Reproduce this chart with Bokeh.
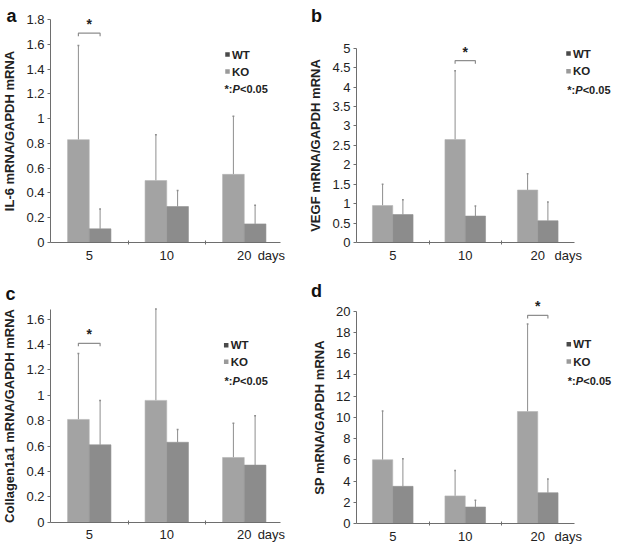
from bokeh.plotting import figure
from bokeh.models import FixedTicker, CustomJSTickFormatter, Label, Range1d
from bokeh.layouts import column, row
from bokeh.embed import file_html
from bokeh.resources import INLINE

# ---------------- data ----------------
days = ["5", "10", "20"]
group_pos = [1, 2, 3]
days_unit = "days"

il6_wt = [0.83, 0.50, 0.55]
il6_wt_upper = [1.59, 0.87, 1.02]
il6_ko = [0.11, 0.29, 0.15]
il6_ko_upper = [0.27, 0.42, 0.30]
il6_yticks = [0, 0.2, 0.4, 0.6, 0.8, 1, 1.2, 1.4, 1.6, 1.8]

vegf_wt = [0.95, 2.65, 1.35]
vegf_wt_upper = [1.50, 4.42, 1.77]
vegf_ko = [0.72, 0.68, 0.56]
vegf_ko_upper = [1.10, 0.94, 1.04]
vegf_yticks = [0, 0.5, 1, 1.5, 2, 2.5, 3, 3.5, 4, 4.5, 5]

col_wt = [0.81, 0.96, 0.51]
col_wt_upper = [1.33, 1.68, 0.78]
col_ko = [0.61, 0.63, 0.45]
col_ko_upper = [0.96, 0.73, 0.84]
col_yticks = [0, 0.2, 0.4, 0.6, 0.8, 1, 1.2, 1.4, 1.6]

sp_wt = [6.0, 2.6, 10.55]
sp_wt_upper = [10.6, 5.0, 18.8]
sp_ko = [3.5, 1.55, 2.9]
sp_ko_upper = [6.1, 2.2, 4.2]
sp_yticks = [0, 2, 4, 6, 8, 10, 12, 14, 16, 18, 20]

legend_labels = ["WT", "KO"]
p_note = ["*:", "P", "<0.05"]

WT_COLOR = "#a3a3a3"
KO_COLOR = "#8c8c8c"
AXIS_COLOR = "#6e6e6e"
TEXT_COLOR = "#222222"
FONT = "Liberation Sans"


def make_panel(letter, ylabel, wt, wt_up, ko, ko_up, yticks, cfg):
    W, H = cfg["size"]
    ox, oy = cfg["origin"]          # axis origin inside the canvas (px)
    sx, sy = cfg["scale"]           # px per data unit
    x_axis_end, y_axis_end = cfg["axis_end"]

    def dx(cx):
        return 0.5 + (cx - ox) / sx

    def dy(cy):
        return (oy - cy) / sy

    p = figure(width=W, height=H, output_backend="svg", toolbar_location=None,
               x_range=Range1d(dx(0), dx(W)), y_range=Range1d(dy(H), dy(0)),
               min_border=0, min_border_left=0, min_border_right=0,
               min_border_top=0, min_border_bottom=0)
    p.outline_line_color = None
    p.xgrid.visible = False
    p.ygrid.visible = False
    p.background_fill_color = "white"
    p.border_fill_color = "white"

    bw = 0.28
    xw = [g - bw / 2 for g in group_pos]
    xk = [g + bw / 2 for g in group_pos]
    ecol = "#8e8e8e"
    p.segment(x0=xw, y0=wt, x1=xw, y1=wt_up, line_color=ecol, line_width=1)
    p.segment(x0=xk, y0=ko, x1=xk, y1=ko_up, line_color=ecol, line_width=1)
    p.segment(x0=[x - 0.012 for x in xw], y0=wt_up, x1=[x + 0.012 for x in xw], y1=wt_up,
              line_color=ecol, line_width=1.5)
    p.segment(x0=[x - 0.012 for x in xk], y0=ko_up, x1=[x + 0.012 for x in xk], y1=ko_up,
              line_color=ecol, line_width=1.5)
    p.vbar(x=xw, top=wt, width=bw, bottom=0, fill_color=WT_COLOR, line_color="#b6b6b6",
           line_width=0.6)
    p.vbar(x=xk, top=ko, width=bw, bottom=0, fill_color=KO_COLOR, line_color="#929292",
           line_width=0.6)

    # significance bracket
    sig_idx, sig_y = cfg["sig"]
    tip = 3 / sy
    bx0, bx1 = xw[sig_idx], xk[sig_idx]
    p.line(x=[bx0, bx0, bx1, bx1], y=[sig_y - tip, sig_y, sig_y, sig_y - tip],
           line_color="#8e8e8e", line_width=1.2)
    p.add_layout(Label(x=group_pos[sig_idx], y=sig_y, text="*", y_offset=1,
                       text_align="center", text_baseline="bottom",
                       text_font=FONT, text_font_size="14px", text_font_style="bold",
                       text_color=TEXT_COLOR))

    # axes, fixed at the data origin inside the canvas
    xt = group_pos + [cfg["days_x"]]
    xl = days + [days_unit]
    xa = p.xaxis[0]
    ya = p.yaxis[0]
    xa.fixed_location = 0
    ya.fixed_location = 0.5
    xa.ticker = FixedTicker(ticks=xt, minor_ticks=[1.5, 2.5])
    xa.formatter = CustomJSTickFormatter(
        args=dict(tpos=xt, labels=xl),
        code="""
        let best = 0;
        for (let i = 0; i < tpos.length; i++) {
          if (Math.abs(tpos[i] - tick) < Math.abs(tpos[best] - tick)) best = i;
        }
        return labels[best];""")
    xa.bounds = (0.5, x_axis_end)
    xa.major_tick_line_color = None
    xa.major_tick_in = 0
    xa.major_tick_out = 2
    xa.minor_tick_in = 2
    xa.minor_tick_out = 2
    xa.minor_tick_line_color = AXIS_COLOR
    xa.major_label_standoff = 3
    ya.ticker = FixedTicker(ticks=yticks, minor_ticks=[])
    ya.formatter = CustomJSTickFormatter(
        code="return String(parseFloat(tick.toFixed(2)));")
    ya.bounds = (0, y_axis_end)
    ya.major_tick_in = 0
    ya.major_tick_out = 3
    ya.major_tick_line_color = AXIS_COLOR
    ya.major_label_standoff = 3
    ya.axis_label = ylabel
    ya.axis_label_standoff = 6
    for ax in (xa, ya):
        ax.axis_line_color = AXIS_COLOR
        ax.major_label_text_font = FONT
        ax.major_label_text_font_size = "13px"
        ax.major_label_text_color = TEXT_COLOR
        ax.axis_label_text_font = FONT
        ax.axis_label_text_font_size = "13px"
        ax.axis_label_text_font_style = "bold"
        ax.axis_label_text_color = TEXT_COLOR

    # panel letter
    lx, ly = cfg["letter"]
    p.add_layout(Label(x=dx(lx), y=dy(ly), text=letter, text_align="center",
                       text_baseline="middle", text_font=FONT, text_font_size="18px",
                       text_font_style="bold", text_color="#111111"))

    # legend
    (qx, qy1, qy2), (nx, ny) = cfg["legend"]
    p.scatter(x=[dx(qx), dx(qx)], y=[dy(qy1), dy(qy2)], marker="square", size=4.5,
              fill_color=["#4a4a4a", "#9a9a9a"], line_color=None)
    for lab, yy in zip(legend_labels, [qy1, qy2]):
        p.add_layout(Label(x=dx(qx + 4.5), y=dy(yy), text=lab, text_align="left",
                           text_baseline="middle", text_font=FONT,
                           text_font_size="11.5px", text_font_style="bold",
                           text_color=TEXT_COLOR))
    offs = [0, 8, 15.5]
    styles = ["bold", "bold italic", "bold"]
    for t, st, off in zip(p_note, styles, offs):
        p.add_layout(Label(x=dx(nx + off), y=dy(ny), text=t, text_align="left",
                           text_baseline="middle", text_font=FONT,
                           text_font_size="11px", text_font_style=st,
                           text_color=TEXT_COLOR))
    return p


cfg_a = dict(size=(309, 273), origin=(50, 242), scale=(77.5, 223 / 1.8),
             axis_end=(3.47, 1.8), sig=(0, 1.69), days_x=3.35,
             letter=(11, 15), legend=((227, 54, 71), (224, 88)))
cfg_b = dict(size=(309, 273), origin=(47, 242), scale=(72.5, 194.3 / 5),
             axis_end=(3.51, 5), sig=(1, 4.68), days_x=3.42,
             letter=(7, 15.5), legend=((259, 53, 70.7), (257.7, 89.3)))
cfg_c = dict(size=(309, 273), origin=(50, 248.7), scale=(77.5, 203 / 1.6),
             axis_end=(3.47, 1.68), sig=(0, 1.41), days_x=3.35,
             letter=(10, 20), legend=((225.7, 71.7, 88.3), (224, 107.3)))
cfg_d = dict(size=(309, 273), origin=(47, 250), scale=(72.5, 212.3 / 20),
             axis_end=(3.51, 20), sig=(2, 19.6), days_x=3.42,
             letter=(7, 17), legend=((259.3, 70.7, 88), (258.3, 107.3)))

pa = make_panel("a", "IL-6 mRNA/GAPDH mRNA", il6_wt, il6_wt_upper, il6_ko, il6_ko_upper,
                il6_yticks, cfg_a)
pb = make_panel("b", "VEGF mRNA/GAPDH mRNA", vegf_wt, vegf_wt_upper, vegf_ko, vegf_ko_upper,
                vegf_yticks, cfg_b)
pc = make_panel("c", "Collagen1a1 mRNA/GAPDH mRNA", col_wt, col_wt_upper, col_ko, col_ko_upper,
                col_yticks, cfg_c)
pd_ = make_panel("d", "SP mRNA/GAPDH mRNA", sp_wt, sp_wt_upper, sp_ko, sp_ko_upper,
                 sp_yticks, cfg_d)

layout = column(row(pa, pb), row(pc, pd_))

open("out.html", "w").write(file_html(layout, INLINE))
